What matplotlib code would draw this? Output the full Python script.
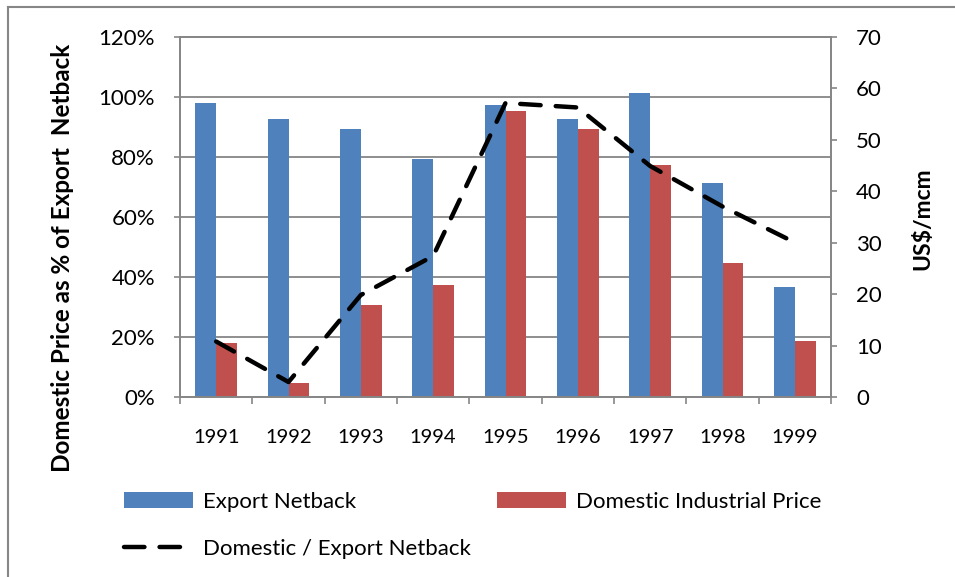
import matplotlib.pyplot as plt
from matplotlib.lines import Line2D
import numpy as np

plt.rcParams['font.family'] = ['Lato', 'DejaVu Sans']

years = ['1991', '1992', '1993', '1994', '1995', '1996', '1997', '1998', '1999']
export_netback = [57.2, 54.1, 52.1, 46.3, 56.8, 54.1, 59.2, 41.6, 21.4]
domestic_price = [10.5, 2.7, 17.9, 21.8, 55.7, 52.1, 45.1, 26.1, 10.9]
ratio_pct = [18.5, 5.0, 34.0, 47.0, 98.0, 96.5, 77.0, 63.5, 51.5]

blue = '#4F81BD'
red = '#C0504D'
gray = '#868686'

fig = plt.figure(figsize=(9.55, 5.77), dpi=100)
ax = fig.add_axes([180 / 955, 1 - 397 / 577, 651 / 955, 360 / 577])
ax2 = ax.twinx()

x = np.arange(len(years))
w = 0.29
b1 = ax.bar(x - w, export_netback, w, align='edge', color=blue, label='Export Netback', zorder=2)
b2 = ax.bar(x, domestic_price, w, align='edge', color=red, label='Domestic Industrial Price', zorder=2)

# bars use the right-hand US$/mcm scale
ax.set_xlim(-0.5, len(years) - 0.5)
ax.set_ylim(0, 70)
ax.yaxis.tick_right()
ax.yaxis.set_label_position('right')
ax.set_yticks(np.arange(0, 71, 10))
ax.set_yticks(np.linspace(0, 70, 7), minor=True)
ax.yaxis.grid(True, which='minor', color=gray, lw=1.3, zorder=0)
ax.tick_params(axis='y', which='minor', length=0, right=False, left=False)
ax.tick_params(axis='y', which='major', direction='out', length=4, pad=14,
               labelsize=16, color=gray, width=1.2)
ax.set_axisbelow(True)

# category boundaries as major ticks, labels on minor
ax.set_xticks(np.arange(-0.5, len(years), 1.0))
ax.set_xticklabels([])
ax.set_xticks(x, minor=True)
ax.set_xticklabels(years, minor=True)
ax.tick_params(axis='x', which='major', direction='out', length=5, color=gray, width=1.2)
ax.tick_params(axis='x', which='minor', length=0, pad=23, labelsize=14.5)

for s in ax.spines.values():
    s.set_color(gray)
    s.set_linewidth(1.3)

# ratio line uses the left-hand percent scale
ax2.yaxis.tick_left()
ax2.yaxis.set_label_position('left')
ln, = ax2.plot(x, ratio_pct, color='black', lw=3.2, dashes=(4.6, 3.4),
               dash_capstyle='round', label='Domestic / Export Netback', zorder=3)
ax2.set_ylim(0, 120)
ax2.set_yticks(np.arange(0, 121, 20))
ax2.set_yticklabels(['%d%%' % v for v in range(0, 121, 20)])
ax2.tick_params(axis='y', direction='out', length=4, pad=14, labelsize=16,
                color=gray, width=1.2)
for s in ax2.spines.values():
    s.set_color(gray)
    s.set_linewidth(1.3)

fig.text(62 / 955, 1 - 258 / 577, 'Domestic Price as % of Export  Netback',
         rotation=90, ha='center', va='center', fontsize=17.5, fontweight='bold')
fig.text(923 / 955, 1 - 219 / 577, 'US$/mcm', rotation=90, ha='center', va='center',
         fontsize=16.5, fontweight='bold')

fig.legend([b1, ln, b2],
           ['Export Netback', 'Domestic / Export Netback', 'Domestic Industrial Price'],
           ncol=2, loc='upper left', bbox_to_anchor=(104 / 955, 1 - 472 / 577),
           frameon=False, fontsize=16, handlelength=3.1, handletextpad=0.45,
           columnspacing=1.2, labelspacing=1.2)

# outer chart frame (top and left edges visible in the crop)
fig.add_artist(Line2D([8 / 955, 8 / 955], [0, 1 - 7 / 577], transform=fig.transFigure,
                      color=gray, lw=1.5))
fig.add_artist(Line2D([8 / 955, 1], [1 - 7 / 577, 1 - 7 / 577], transform=fig.transFigure,
                      color=gray, lw=1.5))

fig.savefig('out.png', dpi=100)
